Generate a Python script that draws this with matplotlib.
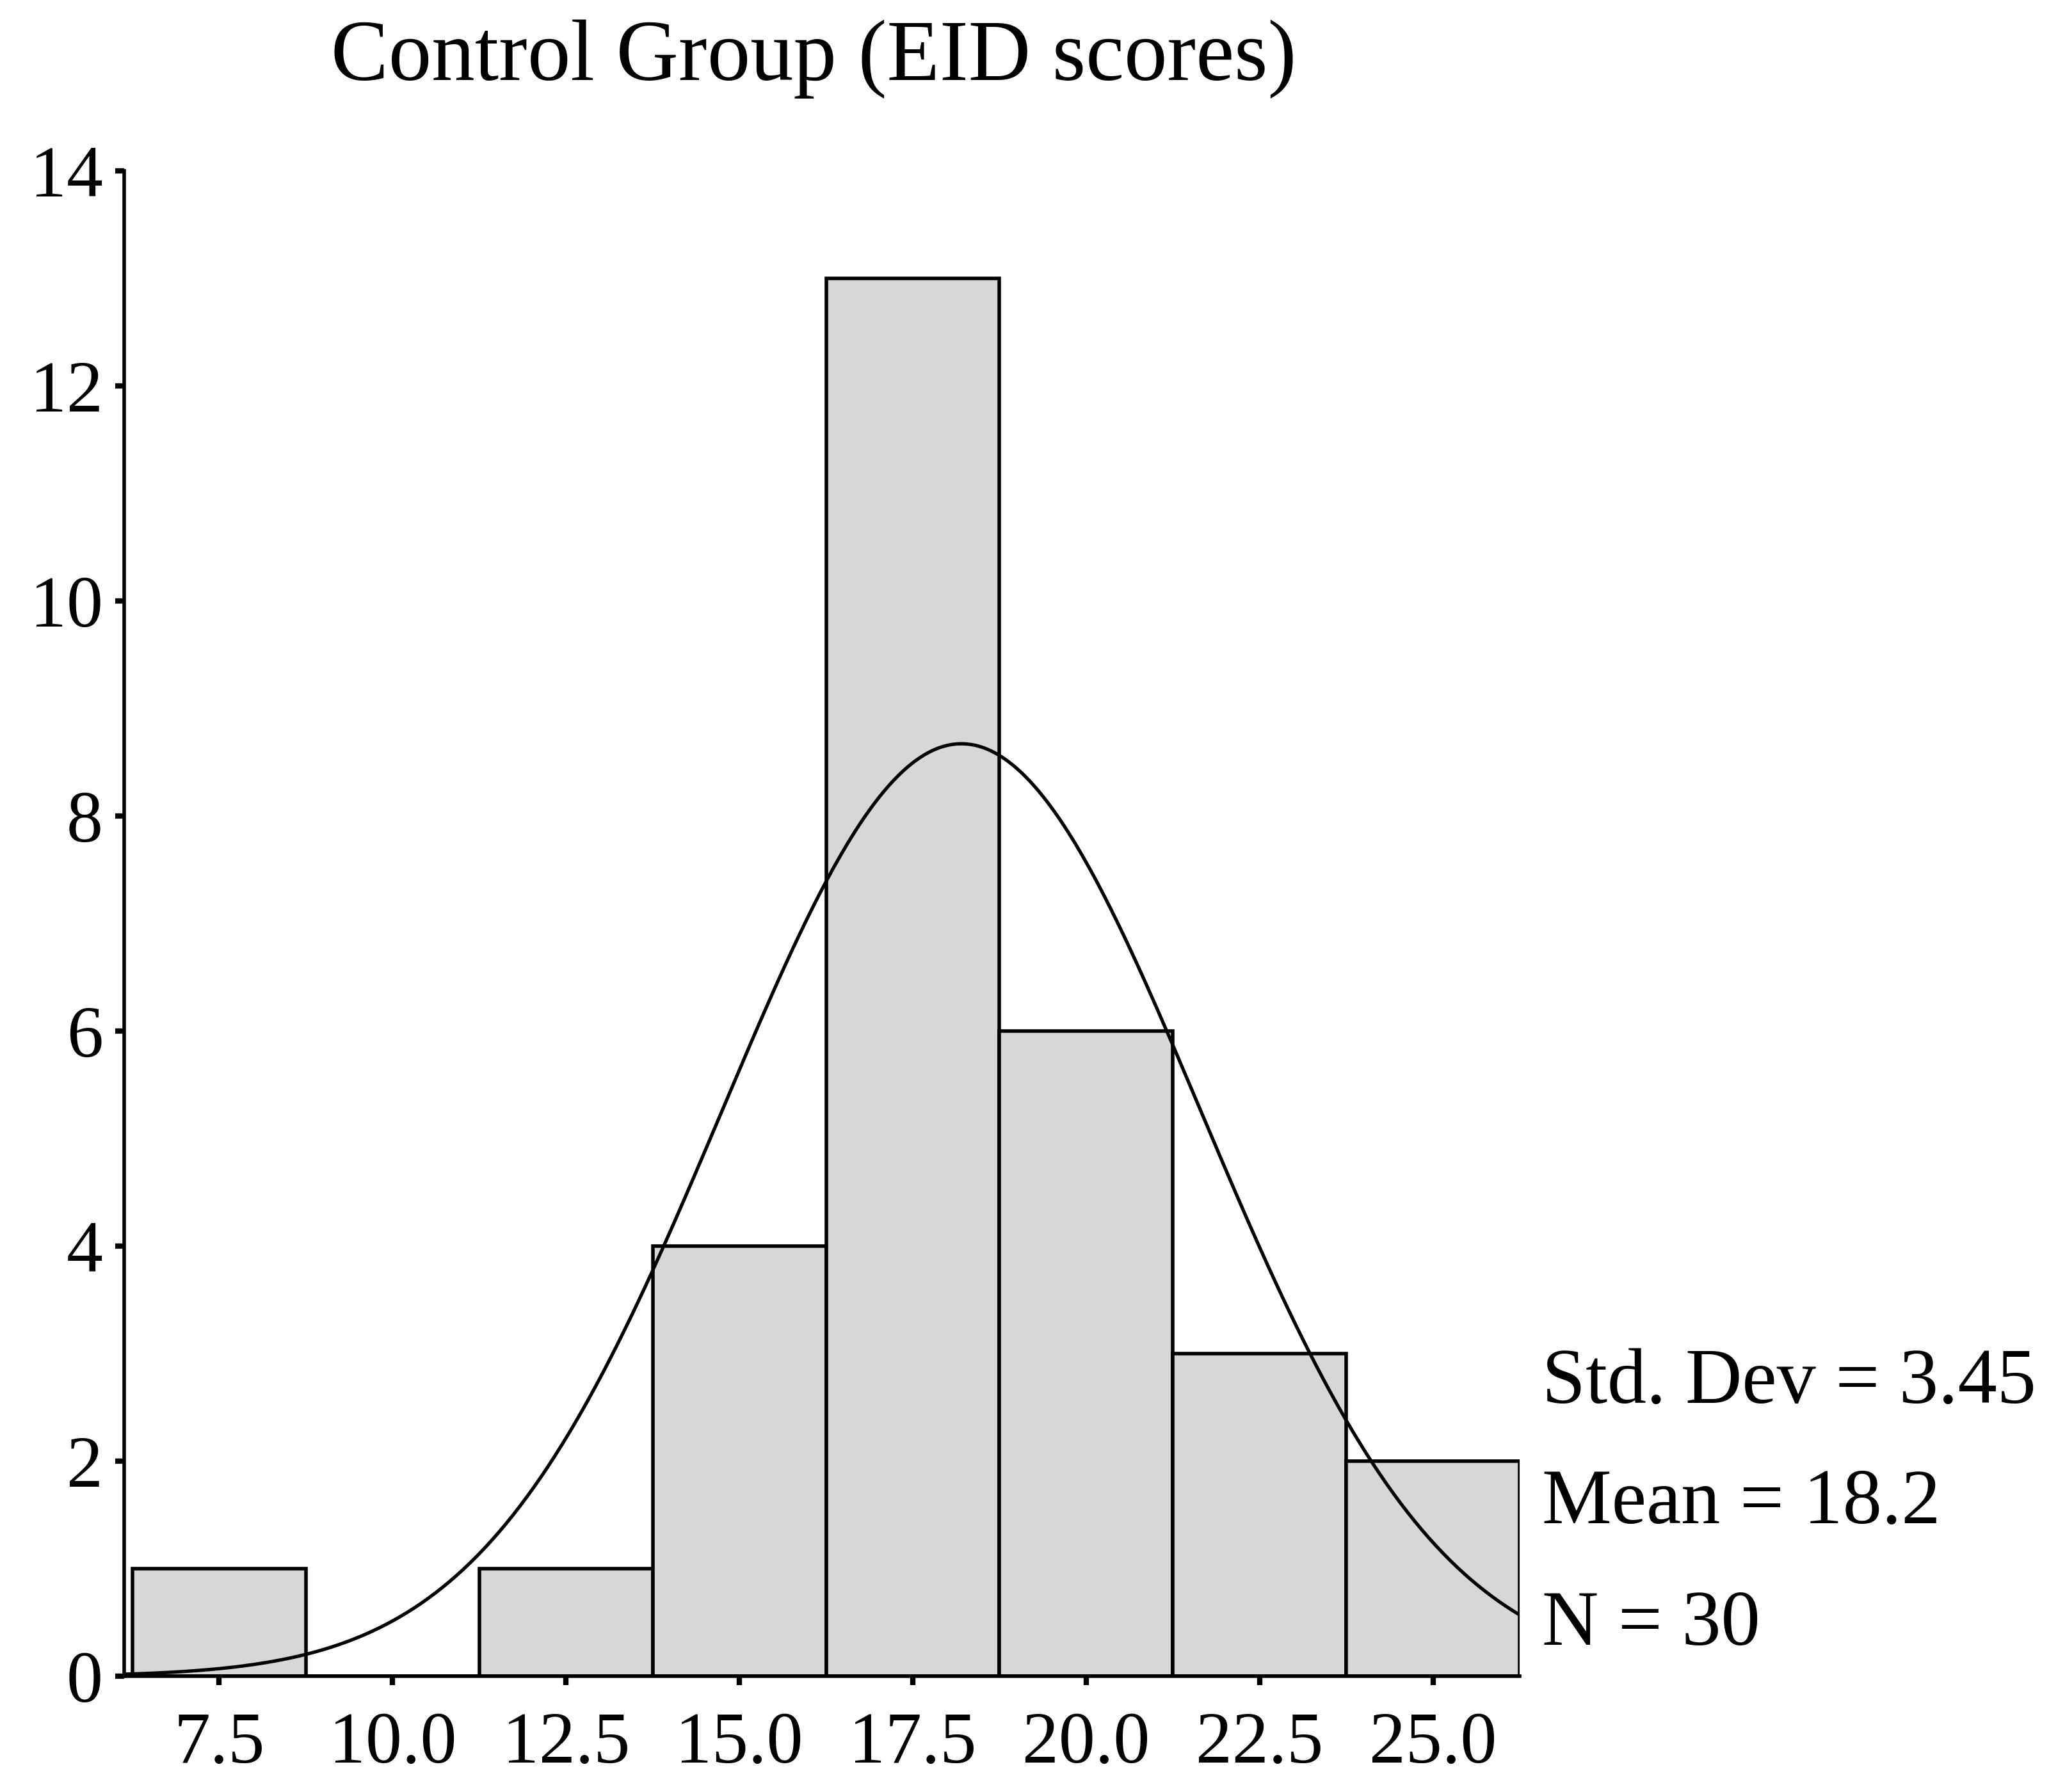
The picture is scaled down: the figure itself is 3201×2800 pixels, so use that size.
import matplotlib
matplotlib.use("Agg")
import matplotlib.pyplot as plt #plotting
import numpy as np #numbers for the fitted curve

# ---- data ----
bin_centers = [7.5, 10.0, 12.5, 15.0, 17.5, 20.0, 22.5, 25.0]
counts = [1, 0, 1, 4, 13, 6, 3, 2]
bin_width = 2.5
std_dev = 3.45
mean = 18.2
n_cases = 30
x_ticks = [7.5, 10.0, 12.5, 15.0, 17.5, 20.0, 22.5, 25.0]
y_ticks = [0, 2, 4, 6, 8, 10, 12, 14]
title = "Control Group (EID scores)"
stat_lines = ["Std. Dev = 3.45", "Mean = 18.2", "N = 30"]

plt.rcParams['font.family'] = ['Liberation Serif', 'DejaVu Serif']

fig = plt.figure(figsize=(32.01, 28), dpi=100)
ax = fig.add_axes([0.0606, 0.0646, 0.6811, 0.84])

#histogram bars
ax.bar(bin_centers, counts, width=bin_width, color='#d7d7d7', edgecolor='black', linewidth=4, zorder=2)

#normal curve with the mean/sd shown on the chart, scaled to counts
x_min, x_max = 6.13, 26.25
xs = np.linspace(x_min, x_max, 400)
ys = n_cases * bin_width / (std_dev * np.sqrt(2 * np.pi)) * np.exp(-0.5 * ((xs - mean) / std_dev) ** 2)
ax.plot(xs, ys, color='black', linewidth=3.8, zorder=3)

ax.set_xlim(x_min, x_max)
ax.set_ylim(0, 14)
ax.set_xticks(x_ticks)
ax.set_xticklabels([f"{t:.1f}" for t in x_ticks])
ax.set_yticks(y_ticks)

for side in ['top', 'right']:
    ax.spines[side].set_visible(False)
for side in ['left', 'bottom']:
    ax.spines[side].set_linewidth(4)

ax.tick_params(axis='both', direction='out', length=10, width=6, labelsize=82, color='black')
ax.tick_params(axis='x', pad=30)
ax.tick_params(axis='y', pad=14)

#title as figure text so it is not pushed up by the top tick label
fig.text(0.397, 0.967, title, fontsize=97, ha='center', va='center')

#stats block right of the plot
stat_y = [2.72, 1.6, 0.47]
for txt, yy in zip(stat_lines, stat_y):
    ax.text(26.57, yy, txt, fontsize=88, va='center', ha='left', clip_on=False)

fig.savefig('out.png', dpi=100, facecolor='white')
